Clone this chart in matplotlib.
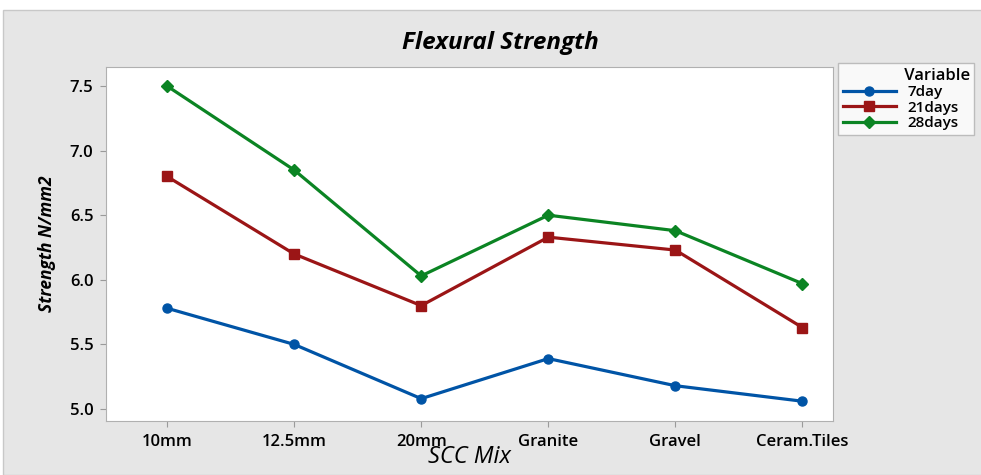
import matplotlib
matplotlib.use('Agg')
import matplotlib.pyplot as plt
from matplotlib.patches import Rectangle

# ── Data ───────────────────────────────────────────────────────────────────────
mixes      = ['10mm', '12.5mm', '20mm', 'Granite', 'Gravel', 'Ceram.Tiles']
day7       = [5.78, 5.50, 5.08, 5.39, 5.18, 5.06]
days21     = [6.80, 6.20, 5.80, 6.33, 6.23, 5.63]
days28     = [7.50, 6.85, 6.03, 6.50, 6.38, 5.97]
y_ticks    = [5.0, 5.5, 6.0, 6.5, 7.0, 7.5]

plt.rcParams['font.family'] = ['Open Sans', 'DejaVu Sans']

fig = plt.figure(figsize=(9.81, 4.75), dpi=100, facecolor='white')
# grey panel behind the plot (white strip on top / left edge)
fig.patches.append(Rectangle((3 / 981, 0), 1, 1 - 10 / 475, transform=fig.transFigure,
                             facecolor='#e6e6e6', edgecolor='#c8c8c8', lw=1, zorder=-1))

ax = fig.add_axes([106 / 981, 1 - 421 / 475, 727 / 981, 354 / 475])
ax.set_facecolor('white')

x = range(len(mixes))
ax.plot(x, day7, color='#0054a6', lw=2.3, marker='o', ms=6.5, label='7day')
ax.plot(x, days21, color='#9b1516', lw=2.3, marker='s', ms=6.5, label='21days')
ax.plot(x, days28, color='#0b8423', lw=2.3, marker='D', ms=6, label='28days')

ax.set_xlim(-0.48, 5.24)
ax.set_ylim(4.907, 7.647)
ax.set_xticks(list(x))
ax.set_xticklabels(mixes)
ax.set_yticks(y_ticks)
ax.set_yticklabels([f'{v:.1f}' for v in y_ticks])

for s in ax.spines.values():
    s.set_color('#b0b0b0')
ax.tick_params(direction='out', length=4, color='#9a9a9a', labelsize=12, pad=5)
for lab in ax.get_xticklabels() + ax.get_yticklabels():
    lab.set_fontweight('semibold')

# title sits centred on the grey panel, not on the axes
fig.text(500 / 981, 1 - 43 / 475, 'Flexural Strength', ha='center', va='center',
         fontsize=17.5, fontstyle='italic', fontweight='bold')
ax.set_xlabel('SCC Mix', fontsize=17, fontstyle='italic', labelpad=-3)
ax.set_ylabel('Strength N/mm2', fontsize=12.5, fontstyle='italic', labelpad=10,
              fontweight='bold')

# leading spaces push the legend title over the label column (Minitab style)
leg = fig.legend(loc='upper left', bbox_to_anchor=(838 / 981, 1 - 63 / 475),
                 title=' ' * 14 + 'Variable', fontsize=11, title_fontsize=12,
                 frameon=True, fancybox=False, borderpad=0.3, labelspacing=0.1,
                 handlelength=3.5, handletextpad=0.75, alignment='left',
                 borderaxespad=0)
leg.get_frame().set_edgecolor('#b0b0b0')
leg.get_frame().set_facecolor('white')
leg.get_title().set_fontweight('semibold')
for t in leg.get_texts():
    t.set_fontweight('semibold')

plt.savefig('out.png', dpi=100, facecolor=fig.get_facecolor())
